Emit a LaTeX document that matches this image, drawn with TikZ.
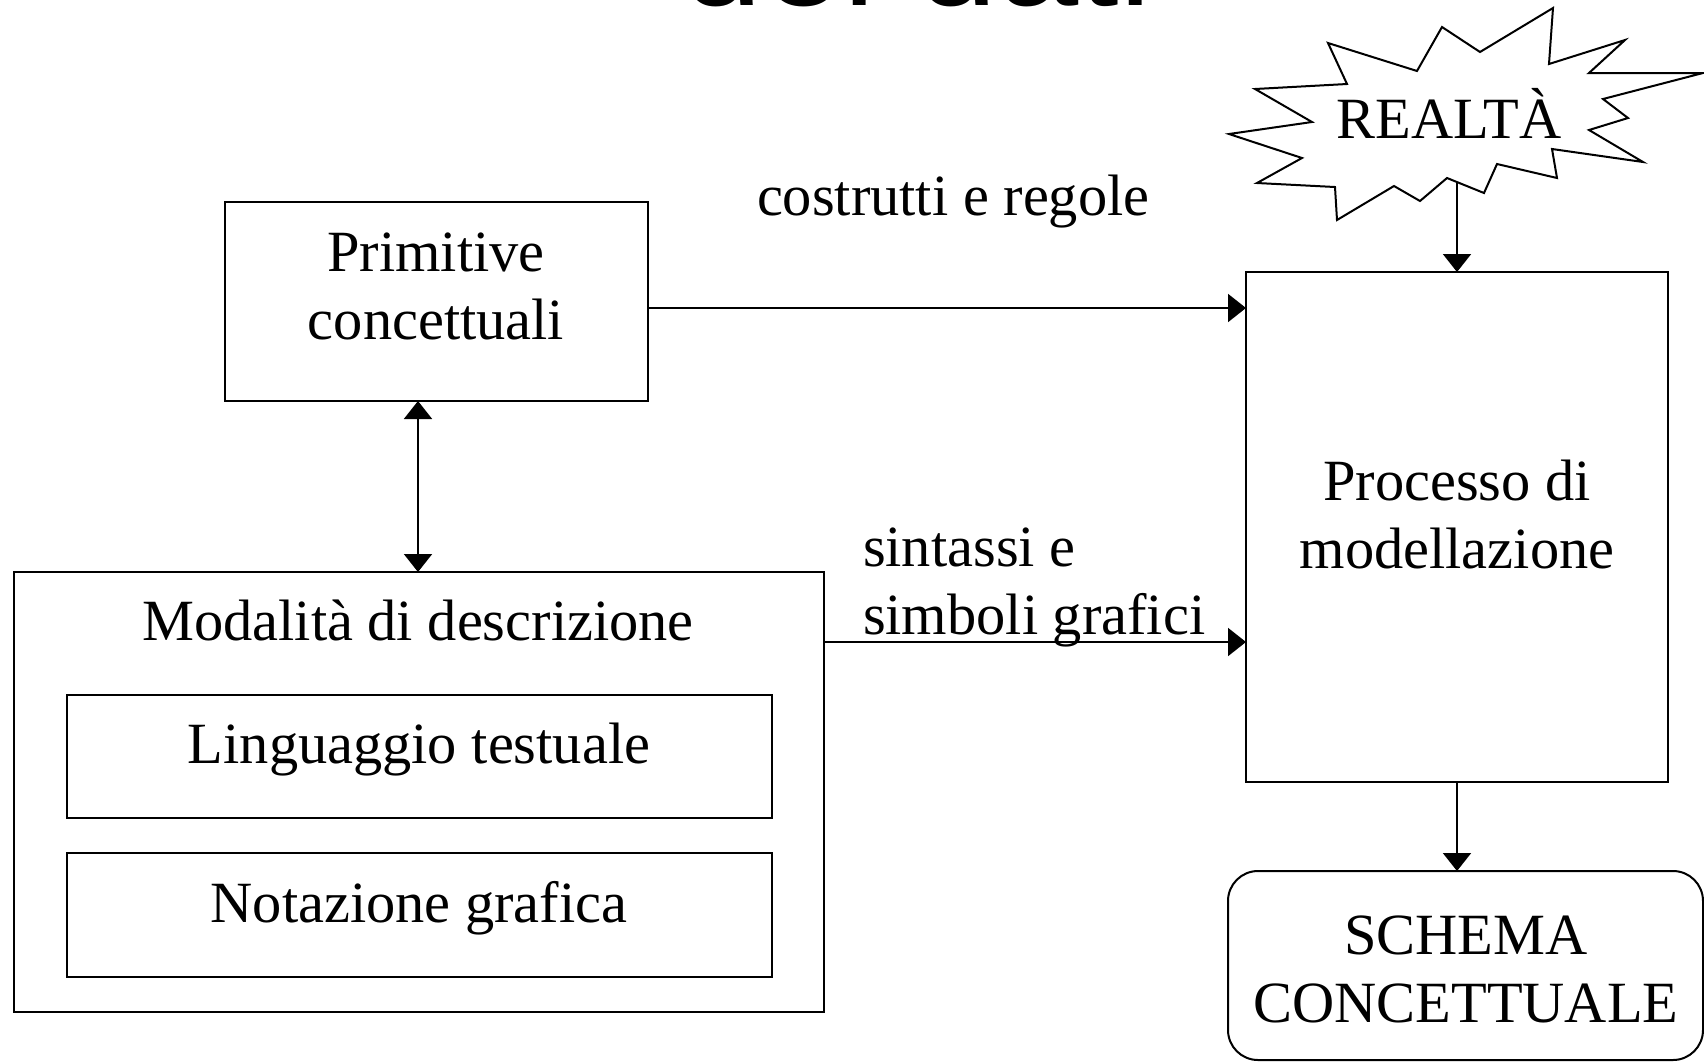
\documentclass[tikz,border=0pt]{standalone}
\usepackage{fontspec}
\setmainfont{Liberation Serif}
\newfontfamily\titlefont{Liberation Sans}
\usetikzlibrary{arrows.meta,fit}

% two centred (or left aligned) lines whose baseline is the first line
\newcommand{\duerighe}[3]{\begin{tabular}[t]{@{}#1@{}}#2\\#3\end{tabular}}

\begin{document}
\begin{tikzpicture}[x=0.5pt,y=-0.5pt,
  every node/.style={inner sep=0pt, outer sep=0pt},
  txt/.style={font=\fontsize{29.2}{34.25}\selectfont},
  box/.style={draw, line width=1pt},
  link/.style={line width=1pt, -{Triangle[width=14pt,length=9pt]}},
  biline/.style={line width=1pt, {Triangle[width=14pt,length=9pt]}-{Triangle[width=14pt,length=9pt]}}]

\useasboundingbox (0,0) rectangle (1704,1062);

% slide title, only its lower edge falls on the page
\node[anchor=base west, font=\titlefont\fontsize{73}{80}\selectfont] (title) at (681,5) {dei dati};

% conceptual primitives
\node[box, fit={(225,202) (648,401)}] (prim) {};
\node[txt, anchor=base] (primtxt) at (436,271) {\duerighe{c}{Primitive}{concettuali}};

% description modes with their two variants
\node[box, fit={(14,572) (824,1012)}] (mod) {};
\node[txt, anchor=base] (modtxt) at (418,640) {Modalità di descrizione};
\node[box, fit={(67,695) (772,818)}] (ling) {};
\node[txt, anchor=base] (lingtxt) at (419,763) {Linguaggio testuale};
\node[box, fit={(67,853) (772,977)}] (nota) {};
\node[txt, anchor=base] (notatxt) at (419,922) {Notazione grafica};

% modelling process
\node[box, fit={(1246,272) (1668,782)}] (proc) {};
\node[txt, anchor=base] (proctxt) at (1457,500) {\duerighe{c}{Processo di}{modellazione}};

% resulting schema
\node[box, rounded corners=15pt, fit={(1228,871) (1703,1060)}] (schema) {};
\node[txt, anchor=base] (schematxt) at (1466,954) {\duerighe{c}{SCHEMA}{CONCETTUALE}};

% reality as an explosion
\draw[line width=1pt] (1553,8) -- (1549,64) -- (1625,40) -- (1589,73) -- (1703,73)
  -- (1603,99) -- (1628,118) -- (1589,130) -- (1643,162) -- (1552,149)
  -- (1557,178) -- (1497,164) -- (1484,193) -- (1447,178) -- (1420,201)
  -- (1394,186) -- (1337,220) -- (1335,187) -- (1257,183) -- (1302,158)
  -- (1229,134) -- (1312,122) -- (1255,89) -- (1347,84) -- (1328,43)
  -- (1417,71) -- (1442,27) -- (1480,52) -- cycle;
\node[txt, anchor=base] (real) at (1449,138) {REALTÀ};
\coordinate (realfoot) at (1457,182);

% connectors
\coordinate (ycost) at (0,308);
\coordinate (ysint) at (0,642);
\coordinate (xbi) at (418,0);
\draw[link] (realfoot) -- (proc.north -| realfoot);
\draw[link] (prim.east |- ycost) -- (proc.west |- ycost);
\draw[link] (mod.east |- ysint) -- (proc.west |- ysint);
\draw[biline] (prim.south -| xbi) -- (mod.north -| xbi);
\draw[link] (proc.south) -- (schema.north -| proc.south);

% connector labels
\node[txt, anchor=base west] (lblcost) at (757,215) {costrutti e regole};
\node[txt, anchor=base west] (lblsint) at (863,566) {\duerighe{l}{sintassi e}{simboli grafici}};

\end{tikzpicture}
\end{document}
